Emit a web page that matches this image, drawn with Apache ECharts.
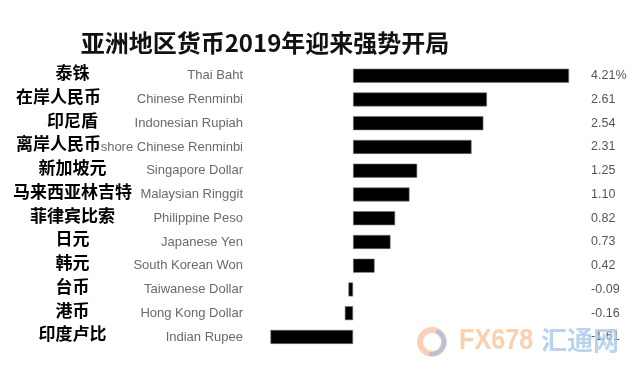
<!DOCTYPE html>
<html><head><meta charset="utf-8">
<script src="https://cdn.jsdelivr.net/npm/echarts@6/dist/echarts.min.js"></script>
<style>html,body{margin:0;padding:0;background:#fff}#c{width:640px;height:378px}</style>
</head><body><div id="c"></div>
<script>
const titleText = '亚洲地区货币2019年迎来强势开局';
const namesCN = ['泰铢','在岸人民币','印尼盾','离岸人民币','新加坡元','马来西亚林吉特','菲律宾比索','日元','韩元','台币','港币','印度卢比'];
const namesEN = ['Thai Baht','Chinese Renminbi','Indonesian Rupiah','Offshore Chinese Renminbi','Singapore Dollar','Malaysian Ringgit','Philippine Peso','Japanese Yen','South Korean Won','Taiwanese Dollar','Hong Kong Dollar','Indian Rupee'];
const values = [4.21, 2.61, 2.54, 2.31, 1.25, 1.10, 0.82, 0.73, 0.42, -0.09, -0.16, -1.61];
const valueLabels = values.map((v, i) => v.toFixed(2) + (i === 0 ? '%' : ''));

const cnStyle = {fontSize: 17, fontWeight: 'bold', color: '#000', fontFamily: 'Noto Sans CJK SC', backgroundColor: '#fff', padding: [0, 0, 6, 0]};
const chart = echarts.init(document.getElementById('c'), null, {renderer: 'canvas'});
chart.setOption({
  backgroundColor: '#fff',
  animation: false,
  title: {
    text: titleText, left: 260, top: 26, textAlign: 'center',
    textStyle: {fontFamily: 'Noto Sans CJK SC', fontWeight: 'bold', fontSize: 24, color: '#111'}
  },
  grid: {left: 268.4, right: 68.9, top: 63.8, height: 285, containLabel: false},
  xAxis: {type: 'value', min: -1.65, max: 4.25, show: false},
  yAxis: [
    {type: 'category', data: namesEN, inverse: true, position: 'left',
     axisLine: {show: false}, axisTick: {show: false},
     axisLabel: {margin: 25.4, fontSize: 13, color: '#6a6a6a', fontFamily: 'Liberation Sans'}},
    {type: 'category', data: namesCN, inverse: true, position: 'left',
     axisLine: {show: false}, axisTick: {show: false},
     axisLabel: {margin: 196, align: 'center',
       formatter: (v) => (v.indexOf('人民币') >= 0 ? '{n|' + v + '}{g|}' : '{n|' + v + '}'),
       rich: {
         n: cnStyle,
         g: {width: 28, height: 10}
       }}},
    {type: 'category', data: valueLabels, inverse: true, position: 'right',
     axisLine: {show: false}, axisTick: {show: false},
     axisLabel: {margin: 20, fontSize: 12.5, color: '#555', fontFamily: 'Liberation Sans'}}
  ],
  series: [{
    type: 'bar', yAxisIndex: 0, data: values, barWidth: 14,
    itemStyle: {color: '#000', borderColor: '#777', borderWidth: 0.6}
  }],
  graphic: [
    {type: 'ring', shape: {cx: 432, cy: 342, r: 15, r0: 9}, style: {fill: 'rgba(246,170,130,0.55)'}, z: 100},
    {type: 'arc', shape: {cx: 432, cy: 342, r: 12, startAngle: -1.2, endAngle: 1.8}, style: {stroke: 'rgba(150,190,230,0.7)', lineWidth: 4, fill: 'none'}, z: 101},
    {type: 'text', x: 459, y: 326, scaleX: 0.84, z: 100,
     style: {text: 'FX678', font: 'bold 30px "Liberation Sans"', fill: 'rgba(251,200,160,0.85)'}},
    {type: 'text', x: 541, y: 327, z: 100,
     style: {text: '汇通网', font: 'bold 26px "Noto Sans CJK SC"', fill: 'rgba(170,200,232,0.8)'}}
  ]
});
</script></body></html>
